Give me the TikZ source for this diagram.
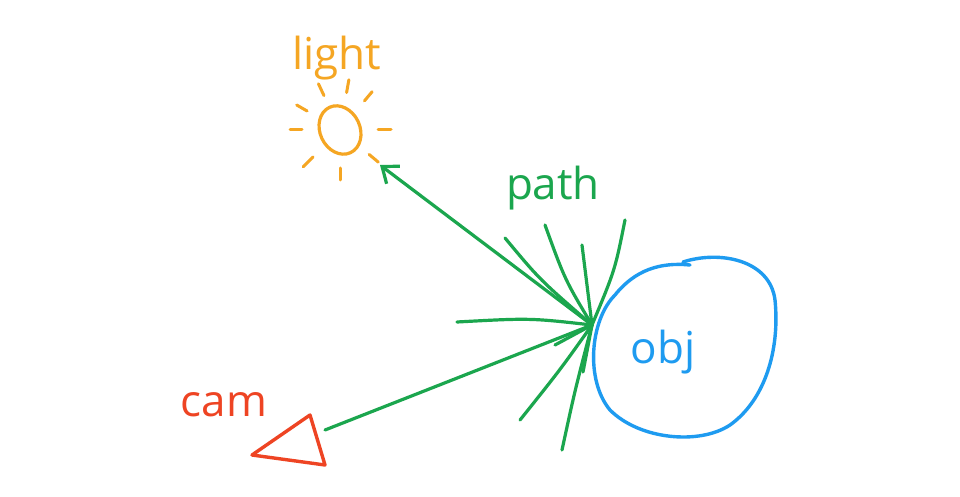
\documentclass[tikz,border=0pt]{standalone}
\usepackage{fontspec}
\setmainfont{Open Sans}
\usetikzlibrary{arrows.meta,calc}
\definecolor{gr}{HTML}{1BA64E}
\definecolor{bl}{HTML}{1E9BF0}
\definecolor{og}{HTML}{F5A623}
\definecolor{rd}{HTML}{EE4423}
\begin{document}
\begin{tikzpicture}[x=1pt,y=-1pt,line cap=round,line join=round,
  g/.style={draw=gr,line width=3.2pt},
  lab/.style={font=\fontsize{44}{44}\selectfont}]
\useasboundingbox[fill=white] (0,0) rectangle (960,497);
% light
\node[lab,text=og] (light) at (337,58) {light};
\draw[og,line width=3.2pt,rotate around={25:(340,130)}] (340,130) ellipse (20 and 25);
\coordinate (sun) at (340,130);
\foreach \a/\r in {90/12,135/14,180/12,210/12,245/13,280/13,310/12,0/13,40/12}{
  \draw[og,line width=3pt] ($(sun)+(\a:38)$) -- ($(sun)+(\a:38+\r)$);}
% hub
\coordinate (hub) at (592,325);
\draw[g,-{Straight Barb[length=14pt,width=22pt]}] (hub) -- (380,165);
\draw[g] (hub) -- (325,430);
\node[lab,text=gr] (path) at (553,188) {path};
\draw[g] (505,238) .. controls (540,280) .. (hub);
\draw[g] (545,225) .. controls (565,280) .. (hub);
\draw[g] (582,245) -- (hub);
\draw[g] (625,220) .. controls (615,270) .. (hub);
\draw[g] (457,322) .. controls (530,318) .. (hub);
\draw[g] (555,345) -- (hub);
\draw[g] (520,420) .. controls (560,370) .. (hub);
\draw[g] (562,450) .. controls (575,390) .. (hub);
\draw[g] (583,372) -- (hub);
% obj
\draw[bl,line width=3.4pt] (683,262) .. controls (720,250) and (770,260) .. (775,300)
  .. controls (780,350) and (765,400) .. (730,425)
  .. controls (700,445) and (640,440) .. (610,410)
  .. controls (585,380) and (590,320) .. (615,295)
  .. controls (635,270) and (660,262) .. (690,265);
\node[lab,text=bl] (obj) at (663,352) {obj};
% cam
\node[lab,text=rd] (cam) at (224,405) {cam};
\draw[rd,line width=3.4pt] (310,415) -- (325,465) -- (252,455) -- cycle;
\end{tikzpicture}
\end{document}
